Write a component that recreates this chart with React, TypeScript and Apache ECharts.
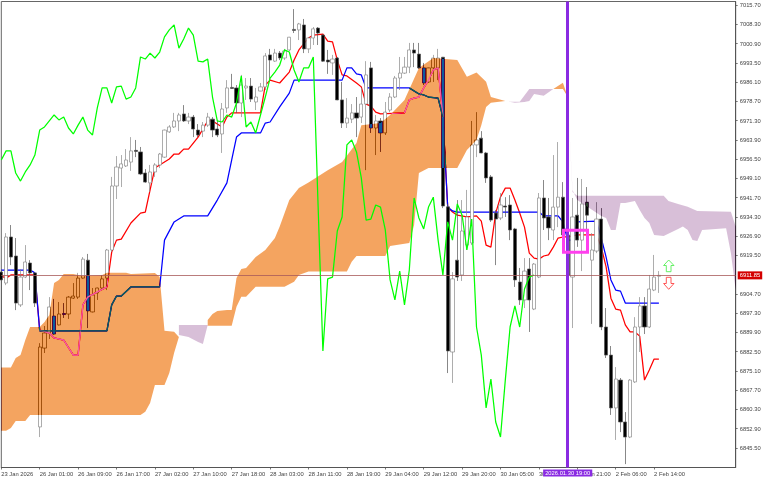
import React, { useEffect, useRef } from "react";
import * as echarts from "echarts";

const BAR_COUNT = 154;
const TICK_EVERY = 8;
const LAST_TICK_BAR = 136;
const TIME_LABELS = ["23 Jan 2026","26 Jan 01:00","26 Jan 09:00","26 Jan 17:00","27 Jan 02:00","27 Jan 10:00","27 Jan 18:00","28 Jan 03:00","28 Jan 11:00","28 Jan 19:00","29 Jan 04:00","29 Jan 12:00","29 Jan 20:00","30 Jan 05:00","30 Jan 13:00","30 Jan 21:00","2 Feb 06:00","2 Feb 14:00"];
const PRICE_TICKS = [7015.7,7008.3,7000.9,6993.5,6986.1,6978.7,6971.3,6963.9,6956.5,6949.1,6941.7,6934.3,6926.9,6919.5,6904.7,6897.3,6889.9,6882.5,6875.1,6867.7,6860.3,6852.9,6845.5];
const LAST_PRICE = 6911.85;
const MARKED_BAR = 118;
const MARKED_TIME = "2026.01.30 19:00";

// open, close, low, high
const CANDLES = [
[6913.1,6910.1,6894.7,6913.9],[6908.9,6926.6,6908.1,6928.1],[6926.6,6918.9,6915.8,6931.2],[6919.3,6901.2,6898.5,6926.2],[6900.5,6911.2,6899.7,6914.3],[6911.2,6917.0,6910.8,6923.5],[6916.6,6912.8,6906.2,6917.7],[6912.8,6901.2,6899.7,6913.1],[6853.6,6884.3,6849.7,6885.8],[6883.9,6889.7,6882.0,6892.4],
[6889.7,6899.7,6887.4,6903.5],[6896.2,6889.3,6889.0,6902.8],[6892.8,6897.0,6892.6,6901.6],[6897.2,6896.8,6895.5,6901.2],[6897.0,6903.5,6895.1,6903.9],[6903.1,6903.9,6902.8,6908.9],[6903.5,6910.8,6902.8,6912.8],[6910.8,6918.1,6910.6,6918.9],[6917.7,6898.2,6891.6,6920.1],[6897.8,6904.3,6897.6,6907.0],
[6905.1,6907.0,6902.4,6907.1],[6907.0,6910.5,6906.2,6912.0],[6910.8,6921.6,6906.2,6922.0],[6921.6,6946.2,6920.8,6949.7],[6946.2,6953.5,6941.2,6957.7],[6953.1,6954.7,6945.8,6958.1],[6953.9,6956.2,6953.5,6960.4],[6955.4,6959.7,6952.0,6965.0],[6959.9,6959.5,6957.3,6963.9],[6959.3,6950.8,6950.4,6961.2],
[6951.2,6947.7,6947.4,6952.7],[6947.4,6951.6,6943.9,6954.3],[6951.6,6954.3,6949.7,6955.0],[6954.3,6958.5,6953.1,6958.9],[6957.3,6967.7,6957.0,6967.9],[6967.0,6968.9,6966.6,6969.6],[6968.9,6971.2,6968.5,6974.3],[6971.2,6973.5,6967.3,6974.3],[6973.9,6971.2,6970.8,6977.3],[6971.2,6972.7,6970.0,6974.3],
[6972.7,6968.1,6965.0,6973.5],[6967.7,6965.8,6965.0,6970.0],[6967.3,6969.6,6965.0,6970.8],[6969.6,6972.7,6968.9,6974.3],[6971.9,6967.7,6965.0,6972.7],[6968.1,6965.8,6965.0,6971.2],[6966.2,6975.8,6958.9,6978.1],[6976.2,6983.9,6974.3,6986.9],[6984.1,6983.7,6983.6,6989.3],[6983.9,6978.1,6974.3,6985.0],
[6978.1,6985.0,6972.7,6988.9],[6983.9,6984.6,6979.3,6987.7],[6984.6,6979.6,6978.5,6987.7],[6978.5,6980.4,6975.4,6983.9],[6982.7,6984.3,6982.6,6985.8],[6984.3,6996.2,6983.1,6997.3],[6996.6,6994.6,6986.9,6998.9],[6994.2,6997.3,6993.9,6998.9],[6997.3,6995.4,6994.6,6998.1],[6995.4,6998.1,6994.6,6998.9],
[6998.5,7003.4,6998.1,7003.5],[7006.4,7006.0,7005.0,7014.2],[7006.2,7008.5,7002.3,7008.9],[7008.1,6998.9,6997.3,7010.4],[6998.9,7003.1,6997.3,7003.5],[7003.1,7006.6,7000.4,7007.3],[7006.9,7005.0,7000.4,7007.3],[7004.2,6994.2,6993.9,7004.6],[6994.6,6993.9,6989.3,6998.5],[6993.5,6995.0,6988.9,6996.6],
[6995.4,6979.3,6979.2,6995.8],[6979.3,6970.4,6968.5,6986.2],[6970.4,6972.3,6968.5,6980.0],[6971.9,6974.3,6970.4,6977.7],[6974.3,6972.3,6965.0,6980.4],[6972.7,6977.7,6970.4,6983.9],[6977.7,6988.9,6952.3,6994.2],[6991.6,6968.5,6966.6,6993.9],[6968.5,6971.2,6958.1,6973.5],[6971.2,6966.6,6959.3,6972.3],
[6966.6,6974.6,6965.8,6978.5],[6975.4,6980.4,6974.6,6981.9],[6980.4,6987.7,6980.0,6988.5],[6987.7,6989.6,6983.1,6995.8],[6989.6,6991.9,6989.3,6995.8],[6991.9,6998.5,6989.6,7001.2],[6998.5,6997.3,6991.9,7001.2],[6996.9,6991.6,6991.2,7001.2],[6991.6,6985.8,6985.0,6993.5],[6986.2,6991.6,6985.8,6991.7],
[6991.6,6995.4,6986.2,6996.6],[6991.6,6995.4,6986.9,6998.9],[6995.7,6938.5,6937.7,6995.8],[6938.2,6882.8,6874.3,6939.3],[6882.4,6910.5,6870.5,6913.1],[6917.7,6911.2,6909.7,6940.8],[6912.0,6928.9,6909.7,6940.8],[6923.5,6934.3,6921.6,6944.7],[6924.3,6962.0,6923.5,6971.2],[6962.0,6963.9,6957.3,6974.6],
[6964.6,6958.9,6958.8,6967.3],[6958.9,6949.3,6947.4,6959.3],[6949.7,6933.1,6932.4,6950.4],[6935.8,6933.5,6915.8,6937.0],[6933.9,6938.9,6933.1,6943.5],[6938.5,6938.1,6934.3,6941.9],[6938.9,6929.3,6925.4,6942.7],[6929.7,6910.1,6907.4,6930.1],[6909.3,6902.4,6900.5,6914.7],[6902.4,6913.5,6899.3,6918.5],
[6914.3,6902.4,6890.1,6918.5],[6898.9,6916.2,6898.5,6916.6],[6911.2,6941.6,6910.8,6943.5],[6941.6,6933.9,6929.3,6948.5],[6934.3,6930.1,6925.4,6941.6],[6929.3,6938.1,6925.4,6958.1],[6938.1,6941.9,6930.4,6963.1],[6941.9,6927.4,6925.4,6947.7],[6927.4,6911.9,6905.0,6931.2],[6911.2,6934.3,6891.6,6941.6],
[6935.0,6925.4,6922.8,6949.3],[6925.4,6939.3,6913.5,6948.9],[6940.0,6935.0,6925.4,6945.8],[6917.7,6921.6,6893.2,6928.1],[6921.2,6933.5,6920.4,6940.0],[6933.5,6892.0,6890.8,6937.7],[6892.0,6881.2,6880.1,6899.3],[6881.2,6860.9,6858.2,6884.7],[6860.9,6872.0,6848.6,6876.6],[6871.6,6855.5,6851.6,6872.4],
[6855.5,6849.7,6839.3,6859.3],[6849.7,6871.6,6849.3,6872.0],[6870.9,6892.0,6870.5,6895.8],[6892.0,6900.1,6882.4,6903.5],[6900.1,6892.0,6889.3,6903.5],[6892.0,6906.6,6891.6,6912.0],[6906.2,6911.2,6905.8,6919.7],[6911.5,6911.85,6905.1,6913.5],
];

// bar index, price
const TENKAN = [[0,6911.6],[1,6910.8],[2,6912.0],[7,6912.0],[8,6890.8],[10,6889.7],[11,6887.8],[13,6887.0],[15,6881.2],[16,6881.2],[17,6900.5],[18,6903.5],[20,6905.5],[22,6907.4],[23,6920.8],[24,6925.4],[25,6925.8],[27,6932.0],[29,6935.8],[30,6936.2],[31,6944.7],[32,6953.1],[33,6954.3],[35,6956.6],[36,6958.5],[37,6958.5],[38,6960.4],[39,6960.4],[41,6965.0],[43,6971.2],[44,6971.2],[45,6970.0],[46,6968.9],[47,6972.7],[48,6974.3],[54,6974.3],[55,6985.0],[56,6986.9],[58,6985.8],[60,6990.0],[61,6994.6],[62,6998.5],[64,7003.1],[65,7004.2],[67,7004.6],[68,7001.9],[69,7001.6],[70,6994.6],[71,6988.9],[72,6988.5],[74,6985.8],[75,6984.3],[76,6977.7],[77,6976.9],[78,6974.6],[79,6973.9],[84,6974.3],[85,6979.3],[86,6980.0],[87,6980.4],[88,6983.9],[89,6986.9],[90,6990.8],[91,6991.6],[92,6972.7],[93,6938.1],[94,6936.2],[95,6935.0],[97,6934.3],[99,6934.7],[100,6932.7],[101,6923.5],[102,6922.7],[103,6935.8],[104,6942.0],[105,6945.4],[106,6945.4],[107,6940.8],[108,6935.8],[109,6930.4],[110,6920.4],[111,6918.5],[112,6918.1],[113,6919.3],[114,6919.7],[115,6922.7],[116,6926.2],[117,6926.6],[118,6926.6],[119,6927.0],[120,6927.4],[124,6927.4],[125,6922.7],[126,6915.1],[127,6903.1],[128,6898.9],[129,6898.5],[130,6892.8],[131,6890.1],[132,6890.1],[133,6888.5],[134,6871.6],[135,6875.5],[136,6879.7],[137,6879.7]];
const KIJUN = [[0,6913.9],[6,6913.9],[7,6912.8],[8,6890.5],[22,6890.5],[23,6900.5],[24,6903.9],[25,6903.9],[27,6907.4],[33,6907.4],[34,6925.4],[36,6932.4],[38,6934.7],[43,6934.7],[45,6940.8],[47,6947.4],[48,6956.2],[49,6965.0],[50,6966.6],[54,6966.6],[55,6970.4],[56,6970.8],[58,6976.6],[60,6981.9],[61,6986.9],[71,6986.9],[72,6991.6],[73,6991.6],[74,6989.3],[75,6988.9],[76,6983.9],[85,6983.9],[87,6981.6],[88,6981.2],[89,6980.4],[91,6980.0],[92,6972.7],[93,6938.1],[94,6936.6],[95,6936.2],[112,6936.2],[113,6934.7],[116,6934.7],[117,6932.4],[118,6925.4],[119,6925.4],[120,6932.4],[124,6932.7],[125,6926.2],[126,6918.9],[127,6910.1],[128,6906.2],[129,6905.8],[130,6901.2],[137,6901.2]];
const CHIKOU = [6956.2,6959.7,6959.7,6951.2,6948.1,6951.6,6954.3,6958.1,6967.7,6968.9,6971.2,6973.5,6971.6,6972.7,6968.5,6966.2,6969.6,6972.7,6967.7,6965.8,6976.2,6983.9,6983.9,6978.1,6984.3,6984.6,6979.6,6980.4,6983.9,6995.8,6995.0,6997.3,6995.4,6997.7,7003.5,7006.2,7008.1,6999.2,7002.7,7006.9,7004.2,6994.2,6993.9,6995.0,6980.4,6971.2,6970.8,6973.5,6972.7,6978.1,6988.5,6968.9,6970.8,6966.6,6973.5,6980.4,6987.7,6990.0,6992.7,6998.5,6997.7,6990.8,6986.2,6991.6,6991.6,6995.8,6938.5,6882.8,6910.5,6911.2,6928.9,6934.3,6962.0,6963.9,6959.3,6949.3,6933.1,6933.5,6938.9,6938.1,6929.3,6910.1,6902.4,6913.5,6900.5,6913.9,6941.6,6933.9,6929.7,6938.1,6941.9,6925.4,6912.0,6932.4,6925.4,6939.3,6935.0,6921.6,6933.5,6892.0,6881.2,6860.9,6872.0,6855.5,6849.7,6871.6,6892.0,6900.1,6892.0,6906.6,6911.2,6912.0];

const BULL_CLOUD_1_TOP = [[0,6876.4],[2,6876.4],[3,6880.1],[4,6881.2],[5,6887.0],[6,6892.0],[8,6892.0],[9,6893.9],[10,6896.6],[11,6908.9],[12,6910.1],[13,6912.4],[15,6912.4],[17,6911.6],[21,6912.0],[22,6912.9],[26,6912.9],[27,6912.4],[32,6912.8],[33,6911.2],[34,6890.6],[36,6890.2],[37,6888.2]];
const BULL_CLOUD_1_BOTTOM = [[0,6852.1],[1,6852.1],[2,6853.2],[3,6855.9],[5,6855.9],[6,6858.2],[29,6858.2],[30,6859.4],[31,6862.8],[32,6869.7],[34,6869.7],[35,6874.3],[36,6882.0],[37,6888.2]];
const BEAR_CLOUD_1_TOP = [[37,6892.8],[43,6892.8]];
const BEAR_CLOUD_1_BOTTOM = [[37,6888.9],[39,6888.2],[41,6886.2],[42,6885.5],[43,6892.8]];
const BULL_CLOUD_2_TOP = [[43,6894.7],[44,6897.0],[45,6898.2],[47,6898.5],[48,6898.5],[49,6910.8],[50,6914.3],[51,6914.7],[53,6918.9],[55,6921.6],[57,6926.2],[58,6930.6],[60,6940.8],[62,6945.4],[64,6947.5],[68,6952.3],[71,6955.4],[74,6962.7],[75,6969.6],[79,6970.4],[81,6973.5],[84,6979.3],[87,6991.6],[90,6995.4],[95,6994.6],[97,6988.2],[99,6989.8],[101,6986.3],[102,6980.4],[105,6978.9]];
const BULL_CLOUD_2_BOTTOM = [[43,6892.5],[48,6892.5],[49,6899.8],[50,6903.6],[51,6903.6],[53,6907.5],[59,6907.5],[61,6909.4],[62,6912.0],[64,6913.3],[72,6913.3],[73,6917.1],[74,6919.3],[80,6919.3],[81,6923.1],[85,6924.3],[86,6931.2],[87,6951.2],[89,6953.1],[95,6953.1],[97,6960.0],[99,6963.9],[100,6969.6],[101,6976.6],[102,6978.2],[105,6978.9]];
const BEAR_CLOUD_2_TOP = [[105,6978.9],[106,6978.6],[108,6978.6],[110,6983.5],[114,6983.5],[115,6983.5]];
const BEAR_CLOUD_2_BOTTOM = [[105,6978.9],[107,6978.2],[109,6978.5],[110,6978.9],[111,6981.6],[113,6980.9],[115,6983.5]];
const BULL_CLOUD_3_TOP = [[115,6983.5],[117,6985.9],[118,6980.5]];
const BULL_CLOUD_3_BOTTOM = [[115,6983.5],[117,6983.5],[118,6980.5]];
const BEAR_CLOUD_3_TOP = [[118,6980.5],[119,6943.9],[120,6942.5],[138,6942.5],[139,6940.4],[141,6939.3],[143,6938.2],[145,6936.6],[152,6936.3],[153,6930.6]];
const BEAR_CLOUD_3_BOTTOM = [[118,6980.5],[119,6944.7],[120,6940.8],[125,6934.7],[126,6933.9],[127,6929.3],[128,6929.3],[129,6939.7],[130,6939.7],[132,6940.4],[133,6937.0],[134,6933.9],[135,6932.0],[136,6927.4],[138,6927.0],[141,6929.7],[142,6930.6],[143,6929.3],[144,6925.4],[145,6925.1],[146,6929.3],[151,6930.0],[152,6920.4],[153,6906.2]];

const BULL_XOR = "#0b5b9f";
const BEAR_XOR = "#274027";
const CLOUD_RUNS = [
  { fill: BULL_XOR, top: BULL_CLOUD_1_TOP, bottom: BULL_CLOUD_1_BOTTOM },
  { fill: BEAR_XOR, top: BEAR_CLOUD_1_TOP, bottom: BEAR_CLOUD_1_BOTTOM },
  { fill: BULL_XOR, top: BULL_CLOUD_2_TOP, bottom: BULL_CLOUD_2_BOTTOM },
  { fill: BEAR_XOR, top: BEAR_CLOUD_2_TOP, bottom: BEAR_CLOUD_2_BOTTOM },
  { fill: BULL_XOR, top: BULL_CLOUD_3_TOP, bottom: BULL_CLOUD_3_BOTTOM },
  { fill: BEAR_XOR, top: BEAR_CLOUD_3_TOP, bottom: BEAR_CLOUD_3_BOTTOM },
];

// Stretches of bars where a line runs inside the cloud and shows in another colour.
const TENKAN_IN_CLOUD = [[8, 22], [81, 92]];
const KIJUN_IN_CLOUD = [[8, 33], [85, 92]];
const inRange = (line: number[][], a: number, b: number) => line.filter(([k]) => k >= a && k <= b);

const FONT = "Liberation Sans";
const categories = Array.from({ length: BAR_COUNT }, (_, i) =>
  i % TICK_EVERY === 0 && i <= LAST_TICK_BAR ? TIME_LABELS[i / TICK_EVERY] : " " + i
);
const isTick = (i: number) => i % TICK_EVERY === 0 && i <= LAST_TICK_BAR;
const arrow = (pts: number[][], color: string) => ({
  type: "polygon",
  shape: { points: pts },
  style: { fill: "#fff", stroke: color, lineWidth: 0.9 },
  z: 100,
});
const overlay = (name: string, data: number[][], color: string) => ({
  type: "line", name, z: 3, clip: false, data, showSymbol: false, lineStyle: { color, width: 1.35 },
});

export default function App() {
  const ref = useRef<HTMLDivElement>(null);
  useEffect(() => {
    const chart = echarts.init(ref.current!, null, { renderer: "svg" });
    chart.setOption({
      animation: false,
      backgroundColor: "#ffffff",
      grid: { left: 1.3, right: 32.3, top: 1.5, bottom: 12.5, show: true, borderColor: "#666", borderWidth: 1, backgroundColor: "transparent", outerBoundsMode: "none" },
      xAxis: {
        type: "category",
        data: categories,
        boundaryGap: false,
        axisLine: { show: true, lineStyle: { color: "#555", width: 1 } },
        axisTick: { show: true, interval: isTick, length: 2, lineStyle: { color: "#555", width: 0.8 } },
        axisLabel: { show: true, interval: isTick, align: "left", margin: 3, fontFamily: FONT, fontSize: 5.8, color: "#444", hideOverlap: false, showMinLabel: true },
        splitLine: { show: false },
      },
      yAxis: {
        type: "value",
        position: "right",
        scale: true,
        min: 6838.0,
        max: 7017.12,
        axisLine: { show: true, lineStyle: { color: "#555", width: 1 } },
        axisTick: { show: true, length: 2, customValues: PRICE_TICKS, lineStyle: { color: "#555", width: 0.8 } },
        axisLabel: { show: true, customValues: PRICE_TICKS, margin: 4, fontFamily: FONT, fontSize: 5.8, color: "#444", formatter: (v: number) => v.toFixed(2) },
        splitLine: { show: false },
      },
      series: [
        {
          type: "candlestick",
          name: "Price",
          z: 1,
          clip: false,
          barWidth: 3.6,
          data: CANDLES,
          itemStyle: { color: "#ffffff", color0: "#000000", borderColor: "#8a8a8a", borderColor0: "#555555", borderWidth: 0.7 },
        },
        { type: "line", name: "Tenkan", z: 1, clip: false, data: TENKAN, showSymbol: false, lineStyle: { color: "#ff0000", width: 1.25 } },
        { type: "line", name: "Kijun", z: 1, clip: false, data: KIJUN, showSymbol: false, lineStyle: { color: "#0000ff", width: 1.25 } },
        {
          type: "custom",
          name: "Cloud",
          z: 2,
          clip: false,
          data: CLOUD_RUNS.map((r) => r.top[0]),
          encode: { x: 0, y: 1 },
          renderItem: (params: any, api: any) => {
            const run = CLOUD_RUNS[params.dataIndex];
            const pts = [...run.top, ...[...run.bottom].reverse()].map((p) => api.coord(p));
            return { type: "polygon", shape: { points: pts }, style: { fill: run.fill, stroke: "none" } };
          },
        },
        ...TENKAN_IN_CLOUD.map(([a, b], i) => overlay("Tenkan in cloud " + i, inRange(TENKAN, a, b), "#f45b9f")),
        ...KIJUN_IN_CLOUD.map(([a, b], i) => overlay("Kijun in cloud " + i, inRange(KIJUN, a, b), "#0b5b60")),
        {
          type: "line",
          name: "Chikou",
          z: 4,
          data: CHIKOU,
          showSymbol: false,
          lineStyle: { color: "#00ff00", width: 1.25 },
          markLine: {
            silent: true,
            symbol: "none",
            z: 6,
            data: [
              {
                yAxis: LAST_PRICE,
                lineStyle: { color: "#a85a5a", width: 0.8, type: "solid" },
                label: { show: true, position: "end", distance: 2, formatter: LAST_PRICE.toFixed(2), color: "#fff", backgroundColor: "#d40000", padding: [1, 2], fontFamily: FONT, fontSize: 5.8 },
              },
              {
                xAxis: MARKED_BAR,
                lineStyle: { color: "#8a2be2", width: 3, type: "solid" },
                label: { show: true, position: "start", distance: 2, formatter: MARKED_TIME, color: "#fff", backgroundColor: "#8a2be2", padding: [0.5, 2], fontFamily: FONT, fontSize: 5.8 },
              },
            ],
          },
        },
      ],
      graphic: [
        { type: "rect", z: 100, shape: { x: 563.5, y: 230.3, width: 24, height: 22 }, style: { fill: "none", stroke: "#ff40ee", lineWidth: 3 } },
        arrow([[668.7,260],[674,265.5],[671,265.5],[671,271.7],[666.3,271.7],[666.3,265.5],[663.6,265.5]], "#55ee55"),
        arrow([[668.7,289.3],[674,283.5],[671,283.5],[671,277.3],[666.3,277.3],[666.3,283.5],[663.6,283.5]], "#ff4444"),
      ],
    });
    const applyBlend = () => {
      ref.current?.querySelectorAll("path").forEach((p) => {
        const fill = (p.getAttribute("fill") || "").toLowerCase();
        if (fill === BULL_XOR || fill === BEAR_XOR || fill === "rgb(11,91,159)" || fill === "rgb(39,64,39)") {
          (p as any).style.mixBlendMode = "difference";
        }
      });
    };
    applyBlend();
    chart.on("finished", applyBlend);
    return () => chart.dispose();
  }, []);
  return <div ref={ref} style={{ position: "absolute", left: 0, top: 0, width: 768, height: 480, background: "#fff" }} />;
}
